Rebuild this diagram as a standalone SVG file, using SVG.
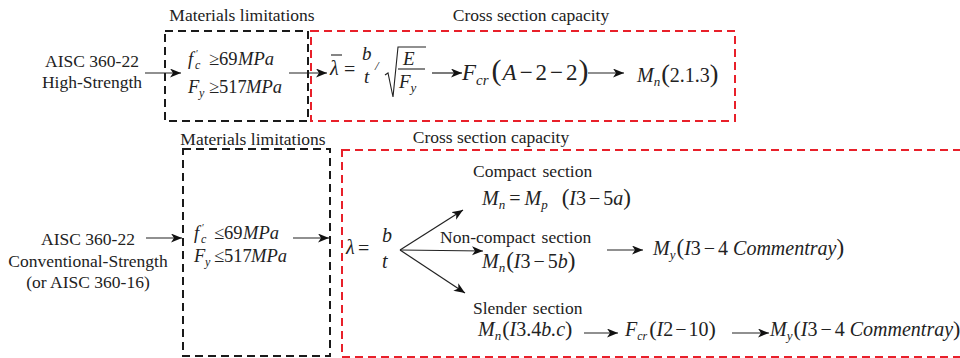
<svg xmlns="http://www.w3.org/2000/svg" width="960" height="358" viewBox="0 0 960 358">
<defs>
<style>
.t{font-family:"Liberation Serif","Times New Roman",serif;font-size:17.5px;fill:#222}
.m{font-family:"Liberation Serif","Times New Roman",serif;fill:#222}
.i{font-style:italic}
.bk{fill:none;stroke:#1a1a1a;stroke-width:2;stroke-dasharray:8 5}
.rd{fill:none;stroke:#e8202a;stroke-width:2;stroke-dasharray:8 5}
.c{stroke:#222;stroke-width:1.2;fill:none}
.ln{stroke:#222;stroke-width:1.1;fill:none}
</style>
<marker id="ah" markerUnits="userSpaceOnUse" markerWidth="12" markerHeight="10" refX="11" refY="4.5" orient="auto">
<path d="M0,0 L11,4.5 L0,9 L3,4.5 z" fill="#111"/>
</marker>
</defs>
<rect width="960" height="358" fill="#fff"/>

<g id="top-source">
<text class="t" x="92" y="67" text-anchor="middle">AISC 360-22</text>
<text class="t" x="92" y="88" text-anchor="middle">High-Strength</text>
</g>

<g id="top-materials">
<text class="t" x="242" y="21" text-anchor="middle">Materials limitations</text>
<rect class="bk" x="165" y="31" width="143" height="90"/>
<text class="m" font-size="18.5" x="188" y="65"><tspan class="i">f</tspan><tspan x="196" dy="-8" font-size="10">′</tspan><tspan class="i" x="195" dy="12" font-size="12">c</tspan><tspan x="209" dy="-4">≥</tspan><tspan x="219">69</tspan><tspan class="i" x="238">MPa</tspan></text>
<text class="m" font-size="18.5" x="188" y="93"><tspan class="i">F</tspan><tspan class="i" x="199" dy="4" font-size="12">y</tspan><tspan x="209" dy="-4">≥</tspan><tspan x="219">517</tspan><tspan class="i" x="246">MPa</tspan></text>
</g>

<g id="top-capacity">
<text class="t" x="531" y="21" text-anchor="middle">Cross section capacity</text>
<rect class="rd" x="311" y="31" width="424" height="90"/>
<text class="m i" font-size="20" x="330" y="75">λ</text>
<line class="ln" x1="331" y1="55" x2="342" y2="55"/>
<text class="m" font-size="20" x="344" y="76">=</text>
<text class="m i" font-size="19" x="362" y="60">b</text>
<text class="m i" font-size="19" x="364" y="83">t</text>
<text class="m i" font-size="13" x="375" y="70">/</text>
<polyline class="ln" points="385,75 388,73 393,97 398,47 426,47"/>
<text class="m i" font-size="19" x="403" y="65">E</text>
<line class="ln" x1="398" y1="69" x2="425" y2="69"/>
<text class="m" font-size="19" x="399" y="88"><tspan class="i">F</tspan><tspan class="i" dy="4" font-size="13">y</tspan></text>
<text class="m" font-size="23" x="462" y="80"><tspan class="i">F</tspan><tspan class="i" dy="5" font-size="15">cr</tspan><tspan dx="3" dy="-5" font-size="30">(</tspan><tspan class="i" dx="1">A</tspan><tspan dx="3">−</tspan><tspan dx="3">2</tspan><tspan dx="3">−</tspan><tspan dx="3">2</tspan><tspan dx="1" font-size="30">)</tspan></text>
<text class="m" font-size="20" x="637" y="82"><tspan class="i">M</tspan><tspan class="i" dy="4" font-size="13">n</tspan><tspan dx="1" dy="-4" font-size="26">(</tspan><tspan>2.1.3</tspan><tspan font-size="26">)</tspan></text>
</g>

<g id="bottom-source">
<text class="t" x="88" y="245" text-anchor="middle">AISC 360-22</text>
<text class="t" x="88" y="267" text-anchor="middle">Conventional-Strength</text>
<text class="t" x="88" y="288" text-anchor="middle">(or AISC 360-16)</text>
</g>

<g id="bottom-materials">
<text class="t" x="253" y="145" text-anchor="middle">Materials limitations</text>
<rect class="bk" x="183" y="149" width="147" height="207"/>
<text class="m" font-size="18.5" x="194" y="239"><tspan class="i">f</tspan><tspan x="202" dy="-8" font-size="10">′</tspan><tspan class="i" x="201" dy="12" font-size="12">c</tspan><tspan x="214" dy="-4">≤</tspan><tspan x="224">69</tspan><tspan class="i" x="243">MPa</tspan></text>
<text class="m" font-size="18.5" x="194" y="262"><tspan class="i">F</tspan><tspan class="i" x="205" dy="4" font-size="12">y</tspan><tspan x="214" dy="-4">≤</tspan><tspan x="224">517</tspan><tspan class="i" x="251">MPa</tspan></text>
</g>

<g id="bottom-capacity">
<text class="t" x="491" y="143" text-anchor="middle">Cross section capacity</text>
<rect class="rd" x="342" y="150" width="622" height="207"/>
<text class="m i" font-size="20" x="346" y="254">λ</text>
<text class="m" font-size="20" x="358" y="255">=</text>
<text class="m i" font-size="20" x="382" y="242">b</text>
<text class="m i" font-size="20" x="382" y="268">t</text>
</g>

<g id="compact">
<text class="t" x="473" y="177" word-spacing="2">Compact section</text>
<text class="m" font-size="20" x="482" y="205"><tspan class="i">M</tspan><tspan class="i" dy="4" font-size="13">n</tspan><tspan dx="4" dy="-4">=</tspan><tspan class="i" dx="4">M</tspan><tspan class="i" dy="4" font-size="13">p</tspan><tspan dx="14" dy="-4" font-size="23">(</tspan><tspan class="i">I</tspan><tspan>3</tspan><tspan dx="3">−</tspan><tspan dx="3">5</tspan><tspan class="i">a</tspan><tspan font-size="23">)</tspan></text>
</g>

<g id="noncompact">
<text class="t" x="440" y="243" word-spacing="2">Non-compact section</text>
<text class="m" font-size="20" x="482" y="268"><tspan class="i">M</tspan><tspan class="i" dy="4" font-size="13">n</tspan><tspan dx="1" dy="-4" font-size="23">(</tspan><tspan class="i">I</tspan><tspan>3</tspan><tspan dx="3">−</tspan><tspan dx="3">5</tspan><tspan class="i">b</tspan><tspan font-size="23">)</tspan></text>
<text class="m" font-size="20" x="653" y="255"><tspan class="i">M</tspan><tspan class="i" dy="4" font-size="13">y</tspan><tspan dx="1" dy="-4" font-size="23">(</tspan><tspan class="i">I</tspan><tspan>3</tspan><tspan dx="3">−</tspan><tspan dx="3">4</tspan><tspan class="i" dx="5">Commentray</tspan><tspan font-size="23">)</tspan></text>
</g>

<g id="slender">
<text class="t" x="473" y="314" word-spacing="2">Slender section</text>
<text class="m" font-size="20" x="478" y="336"><tspan class="i">M</tspan><tspan class="i" dy="4" font-size="13">n</tspan><tspan dx="1" dy="-4" font-size="22">(</tspan><tspan class="i">I</tspan><tspan>3.4</tspan><tspan class="i">b.c</tspan><tspan font-size="22">)</tspan></text>
<text class="m" font-size="20" x="625" y="336"><tspan class="i">F</tspan><tspan class="i" dy="4" font-size="12">cr</tspan><tspan dx="2" dy="-4" font-size="22">(</tspan><tspan class="i">I</tspan><tspan>2</tspan><tspan dx="2">−</tspan><tspan dx="2">10</tspan><tspan font-size="22">)</tspan></text>
<text class="m" font-size="20" x="770" y="336"><tspan class="i">M</tspan><tspan class="i" dy="4" font-size="13">y</tspan><tspan dx="1" dy="-4" font-size="22">(</tspan><tspan class="i">I</tspan><tspan>3</tspan><tspan dx="3">−</tspan><tspan dx="3">4</tspan><tspan class="i" dx="5">Commentray</tspan><tspan font-size="22">)</tspan></text>
</g>

<g id="connectors">
<line class="c" x1="145" y1="73" x2="181" y2="73" marker-end="url(#ah)"/>
<line class="c" x1="289" y1="73" x2="327" y2="73" marker-end="url(#ah)"/>
<line class="c" x1="432" y1="73" x2="462" y2="73" marker-end="url(#ah)"/>
<line class="c" x1="588" y1="73" x2="624" y2="73" marker-end="url(#ah)"/>
<line class="c" x1="146" y1="238" x2="182" y2="238" marker-end="url(#ah)"/>
<line class="c" x1="293" y1="238" x2="329" y2="238" marker-end="url(#ah)"/>
<line class="c" x1="400" y1="250" x2="463" y2="210" marker-end="url(#ah)"/>
<line class="c" x1="400" y1="250" x2="483" y2="251" marker-end="url(#ah)"/>
<line class="c" x1="400" y1="250" x2="465" y2="293" marker-end="url(#ah)"/>
<line class="c" x1="607" y1="250" x2="643" y2="250" marker-end="url(#ah)"/>
<line class="c" x1="584" y1="333" x2="618" y2="333" marker-end="url(#ah)"/>
<line class="c" x1="732" y1="333" x2="769" y2="333" marker-end="url(#ah)"/>
</g>
</svg>
